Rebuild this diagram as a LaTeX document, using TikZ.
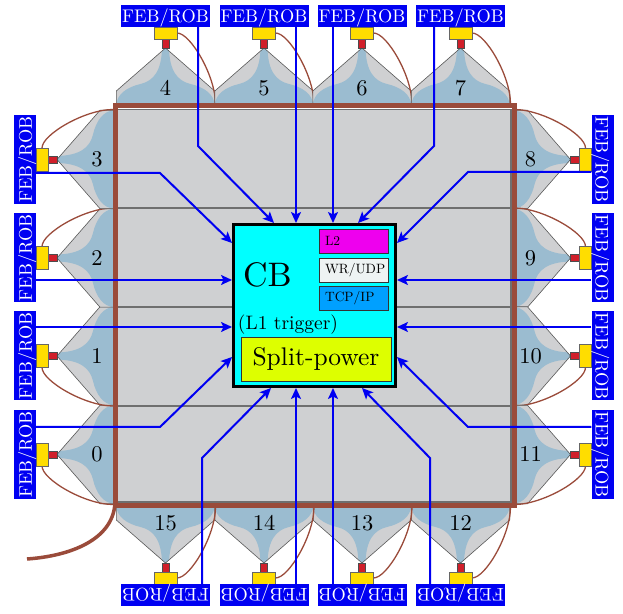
\documentclass[tikz,border=0pt]{standalone}
\usepackage{fontspec}
\setmainfont{lmroman10-regular.otf}
\usetikzlibrary{arrows.meta,calc}
\definecolor{sqgray}{HTML}{CFD0D2}
\definecolor{linegray}{HTML}{6F6F6F}
\definecolor{brownc}{HTML}{9A4B3A}
\definecolor{fanblue}{HTML}{9BBCD0}
\definecolor{febblue}{HTML}{0000F2}
\definecolor{yel}{HTML}{FFDD00}
\definecolor{redc}{HTML}{D01F2A}
\definecolor{cbcyan}{HTML}{00FFFF}
\definecolor{l2mag}{HTML}{EE00EE}
\definecolor{wrwhite}{HTML}{EEF3F3}
\definecolor{tcpblue}{HTML}{00A0FF}
\definecolor{splity}{HTML}{DDFF00}
\newcommand\myfs[1]{\fontsize{#1}{#1}\selectfont}
\tikzset{
 tileedge/.style={draw=black!65, line width=0.6pt},
 cable/.style={draw=brownc, line width=1.3pt},
 redbox/.style={fill=redc, draw=black!70, line width=0.6pt},
 yelbox/.style={fill=yel, draw=black!60, line width=0.7pt},
 feb/.style={fill=febblue, text=white, minimum width=89pt, minimum height=22pt, inner sep=0pt, text depth=0pt, font=\myfs{18.3}},
 num/.style={font=\myfs{22.5}, inner sep=0pt},
 arr/.style={draw=febblue, line width=2pt, -{Stealth[length=11pt,width=10pt,inset=2.5pt]}},
 smallbox/.style={draw=black!80, line width=0.8pt, minimum height=24pt, text width=57pt, inner xsep=6pt, inner ysep=0pt, align=left, font=\myfs{13.5}},
}
\newcommand\febtile[5]{%
\begin{scope}[shift={(#2,613-#3)},rotate=#4]
 \fill[sqgray] (-49.2,-2) -- (-49.2,15) -- (0,58) -- (49.2,15) -- (49.2,-2) -- cycle;
 \begin{scope}
  \clip (-49.2,-2) -- (-49.2,15) -- (0,58) -- (49.2,15) -- (49.2,-2) -- cycle;
  \fill[fanblue] (-49.2,-2) -- (-49.2,0) .. controls (-49.2,12) and (-38,19) .. (-25,22)
     .. controls (-12,25) and (-4,35) .. (-3.5,58) -- (3.5,58)
     .. controls (4,35) and (12,25) .. (25,22) .. controls (38,19) and (49.2,12) .. (49.2,0)
     -- (49.2,-2) -- cycle;
 \end{scope}
 \draw[tileedge] (-49.2,0) -- (-49.2,15) -- (0,58) -- (49.2,15) -- (49.2,0);
 \draw[cable] (#5*11.5,73) .. controls (#5*25,73) and (#5*50,30) .. (#5*50,2);
 \draw[redbox] (-3.5,58) rectangle (3.5,67);
 \draw[yelbox] (-11.5,67) rectangle (11.5,79);
 \node[feb,transform shape] (lab#1) at (0,90) {FEB/ROB};
 \node[num] (n#1) at (0,18) {#1};
\end{scope}}
\begin{document}
\begin{tikzpicture}[x=1pt,y=1pt]
\useasboundingbox (0,0) rectangle (623,613);
% tiles
\febtile{4}{165.5}{106}{0}{1}
\febtile{5}{264}{106}{0}{1}
\febtile{6}{362}{106}{0}{1}
\febtile{7}{460.5}{106}{0}{1}
\febtile{8}{512.5}{159.5}{-90}{-1}
\febtile{9}{512.5}{258}{-90}{-1}
\febtile{10}{512.5}{356}{-90}{1}
\febtile{11}{512.5}{454.5}{-90}{1}
\febtile{12}{460.5}{505}{180}{-1}
\febtile{13}{362}{505}{180}{-1}
\febtile{14}{264}{505}{180}{-1}
\febtile{15}{165.5}{505}{180}{-1}
\febtile{0}{115}{454.5}{90}{-1}
\febtile{1}{115}{356}{90}{-1}
\febtile{2}{115}{258}{90}{1}
\febtile{3}{115}{159.5}{90}{1}
% square
\filldraw[fill=sqgray, draw=linegray, line width=1.2pt] (117.5,613-109.5) rectangle (511,613-502);
\foreach \yy in {208,307,406}
  \draw[linegray, line width=2pt] (116,613-\yy) -- (512,613-\yy);
\draw[brownc, line width=5pt] (115,613-106) rectangle (514,613-505);
\draw[brownc, line width=3.5pt] (115,613-503) .. controls (113,613-540) and (70,613-556) .. (27,613-559);
% CB
\node[draw=black, line width=3pt, fill=cbcyan, minimum width=162pt, minimum height=162pt, inner sep=0pt] (cb) at (314.5,613-305.5) {};
\node[smallbox, fill=l2mag] (l2) at (353.5,613-241) {L2};
\node[smallbox, fill=wrwhite] (wr) at (353.5,613-270) {WR/UDP};
\node[smallbox, fill=tcpblue] (tcp) at (353.5,613-298) {TCP/IP};
\node[font=\myfs{34}, inner sep=0pt] (cbt) at (267.5,613-274.5) {CB};
\node[font=\myfs{19.5}, inner sep=0pt] (l1) at (288,613-325) {(L1 trigger)};
\node[draw=black!80, line width=0.8pt, fill=splity, minimum width=150pt, minimum height=44pt, inner sep=0pt, font=\myfs{25.5}] (sp) at (316,613-359) {Split-power};
% coordinates
\coordinate (b4) at (198,613-146); \coordinate (e4) at (274,0);
\coordinate (x5) at (296,0); \coordinate (x6) at (333,0);
\coordinate (b7) at (434,613-146); \coordinate (e7) at (358,0);
\coordinate (b3) at (160,613-173); \coordinate (e3) at (0,613-243);
\coordinate (y2) at (0,613-280); \coordinate (y1) at (0,613-327);
\coordinate (b0) at (160,613-427); \coordinate (e0) at (0,613-357);
\coordinate (b8) at (468,613-172); \coordinate (e8) at (0,613-243);
\coordinate (b11) at (468,613-427); \coordinate (e11) at (0,613-357);
\coordinate (b15) at (202,613-458); \coordinate (e15) at (271,0);
\coordinate (x14) at (296,0); \coordinate (x13) at (333,0);
\coordinate (b12) at (430,613-458); \coordinate (e12) at (362,0);
% arrows
\draw[arr] (lab4.south -| b4) -- (b4) -- (cb.north -| e4);
\draw[arr] (lab5.south -| x5) -- (cb.north -| x5);
\draw[arr] (lab6.south -| x6) -- (cb.north -| x6);
\draw[arr] (lab7.south -| b7) -- (b7) -- (cb.north -| e7);
\draw[arr] (lab3.south |- b3) -- (b3) -- (cb.west |- e3);
\draw[arr] (lab2.south |- y2) -- (cb.west |- y2);
\draw[arr] (lab1.south |- y1) -- (cb.west |- y1);
\draw[arr] (lab0.south |- b0) -- (b0) -- (cb.west |- e0);
\draw[arr] (lab8.south |- b8) -- (b8) -- (cb.east |- e8);
\draw[arr] (lab9.south |- y2) -- (cb.east |- y2);
\draw[arr] (lab10.south |- y1) -- (cb.east |- y1);
\draw[arr] (lab11.south |- b11) -- (b11) -- (cb.east |- e11);
\draw[arr] (lab15.south -| b15) -- (b15) -- (cb.south -| e15);
\draw[arr] (lab14.south -| x14) -- (cb.south -| x14);
\draw[arr] (lab13.south -| x13) -- (cb.south -| x13);
\draw[arr] (lab12.south -| b12) -- (b12) -- (cb.south -| e12);
\end{tikzpicture}
\end{document}
